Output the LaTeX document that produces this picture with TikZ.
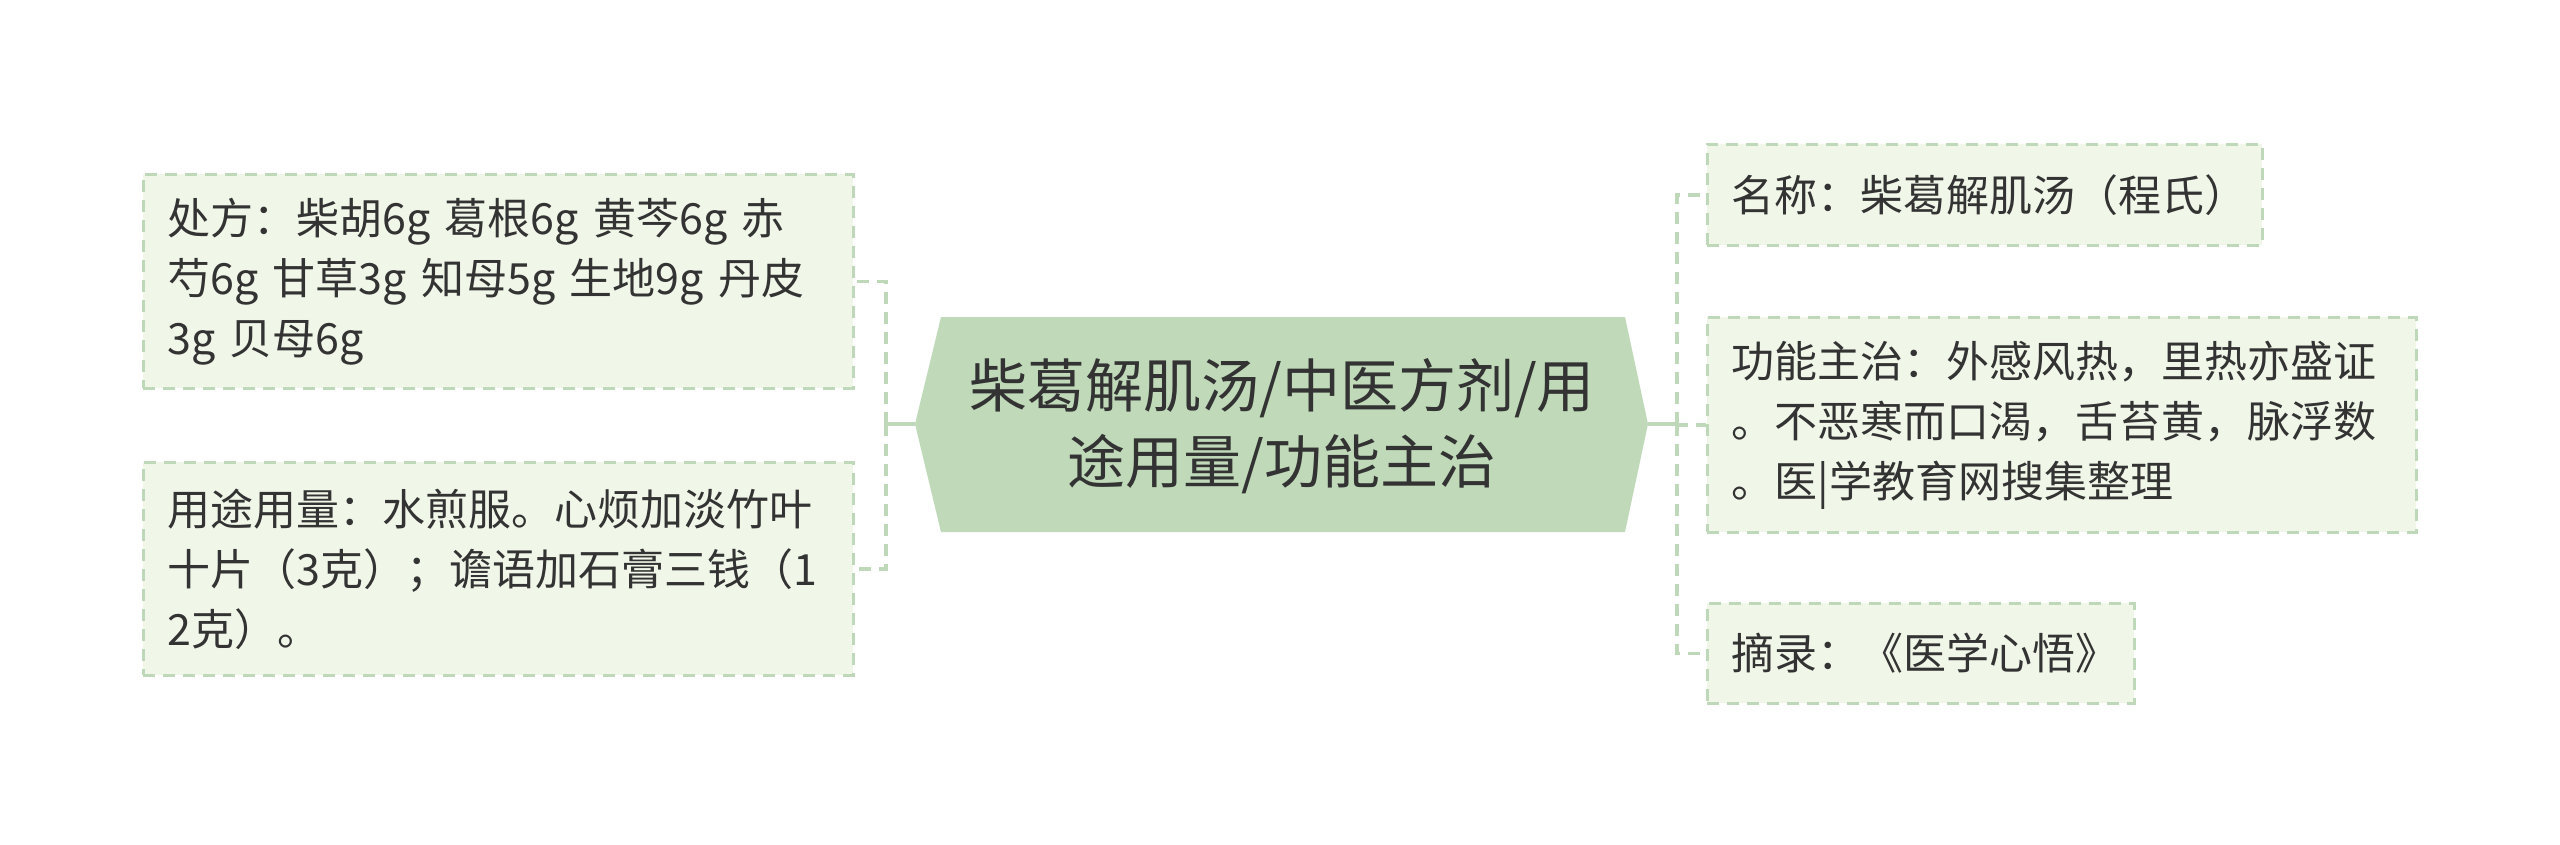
\documentclass[tikz,border=0pt]{standalone}
\usepackage{fontspec}
\newfontfamily\cjk{Noto Sans CJK SC}
\usetikzlibrary{calc}
\definecolor{boxfill}{HTML}{F0F7E9}
\definecolor{boxline}{HTML}{C0D8BA}
\definecolor{centfill}{HTML}{BFD9B9}
\definecolor{txt}{HTML}{333333}
\begin{document}
\begin{tikzpicture}[x=1pt,y=-1pt,
  leaf/.style={draw=boxline, fill=boxfill, line width=2.8pt, dash pattern=on 12pt off 8pt,
    align=left, anchor=north west, inner xsep=24pt, inner ysep=0pt, text=txt,
    font=\cjk\fontsize{43}{60}\selectfont},
  cent/.style={align=center, text=txt, inner sep=0pt, font=\cjk\fontsize{58}{76}\selectfont},
  connsolid/.style={draw=boxline, line width=3.6pt},
  conndash/.style={draw=boxline, line width=3.6pt, dash pattern=on 12pt off 8pt}]
\useasboundingbox (0,0) rectangle (2560,845);
% central hexagon
\coordinate (cl) at (915,424);
\coordinate (ctl) at (941,317);
\coordinate (ctr) at (1625,317);
\coordinate (cr) at (1648,424);
\coordinate (cbr) at (1625,532);
\coordinate (cbl) at (941,532);
\fill[centfill] (cl) -- (ctl) -- (ctr) -- (cr) -- (cbr) -- (cbl) -- cycle;
\node[cent] (c) at (1282,426) {柴葛解肌汤/中医方剂/用\\途用量/功能主治};
% leaves
\node[leaf, text width=662pt, minimum height=214pt] (l1) at (142,173)
  {处方：柴胡6g 葛根6g 黄芩6g 赤\\芍6g 甘草3g 知母5g 生地9g 丹皮\\3g 贝母6g};
\node[leaf, text width=662pt, minimum height=213pt] (l2) at (142,461)
  {用途用量：水煎服。心烦加淡竹叶\\十片（3克）；谵语加石膏三钱（1\\2克）。};
\node[leaf, text width=507pt, minimum height=101pt] (r1) at (1706,143)
  {名称：柴葛解肌汤（程氏）};
\node[leaf, text width=661pt, minimum height=215pt] (r2) at (1706,316)
  {功能主治：外感风热，里热亦盛证\\。不恶寒而口渴，舌苔黄，脉浮数\\。医|学教育网搜集整理};
\node[leaf, text width=379pt, minimum height=100pt] (r3) at (1706,602)
  {摘录：《医学心悟》};
% connectors
\coordinate (jl) at (886,424);
\coordinate (jr) at (1677,424);
\draw[connsolid] (cl) -- (jl);
\draw[connsolid] (cr) -- (jr);
\draw[conndash] (jl) |- (l1.east);
\draw[conndash] (jl) |- (l2.east);
\draw[conndash] (jr) |- (r1.west);
\draw[conndash] (jr) |- (r2.west);
\draw[conndash] (jr) |- (r3.west);
\end{tikzpicture}
\end{document}
